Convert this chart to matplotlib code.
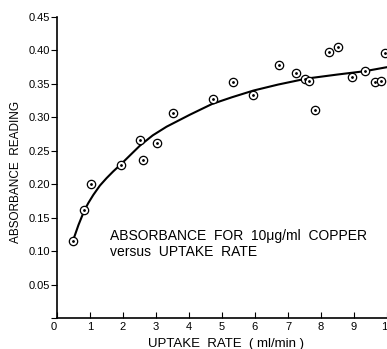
import numpy as np
import matplotlib.pyplot as plt

plt.rcParams['font.family'] = ['Liberation Sans', 'DejaVu Sans']

# measured points (uptake rate ml/min, absorbance)
rate = [0.48, 0.83, 1.02, 1.94, 2.52, 2.62, 3.02, 3.53, 4.74, 5.33, 5.93,
        6.72, 7.24, 7.52, 7.64, 7.82, 8.25, 8.52, 8.93, 9.33, 9.63, 9.82, 9.93]
absorb = [0.115, 0.161, 0.201, 0.229, 0.266, 0.236, 0.262, 0.306, 0.327, 0.353, 0.333,
          0.378, 0.367, 0.357, 0.355, 0.311, 0.398, 0.405, 0.360, 0.369, 0.353, 0.355, 0.396]

# hand drawn trend curve
curve_x = [0.48, 0.65, 0.83, 0.95, 1.10, 1.30, 1.50, 1.70, 1.94, 2.25, 2.52, 2.90, 3.32, 4.03,
           4.70, 5.30, 5.95, 6.70, 7.57, 8.50, 9.33, 10.0]
curve_y = [0.115, 0.139, 0.161, 0.172, 0.184, 0.198, 0.209, 0.219, 0.230, 0.245, 0.258, 0.273,
           0.286, 0.304, 0.320, 0.330, 0.340, 0.349, 0.358, 0.364, 0.369, 0.375]

xticks = list(range(0, 11))
yticks = [0, 0.05, 0.10, 0.15, 0.20, 0.25, 0.30, 0.35, 0.40, 0.45]
ytick_labels = ['', '0.05', '0.10', '0.15', '0.20', '0.25', '0.30', '0.35', '0.40', '0.45']

fig = plt.figure(figsize=(3.87, 3.49), dpi=100)
ax = fig.add_axes([57/387, 1 - 318/349, 1 - 57/387, (318 - 17)/349])

ax.plot(curve_x, curve_y, color='black', lw=1.5, solid_capstyle='round',
        solid_joinstyle='round', zorder=2)
ax.plot(rate, absorb, 'o', ms=6, mfc='white', mec='black', mew=0.9, zorder=3)
ax.plot(rate, absorb, '.', ms=2, color='black', zorder=4)

ax.set_xlim(0, 10)
ax.set_ylim(0, 0.45)
for s in ['top', 'right']:
    ax.spines[s].set_visible(False)
ax.spines['left'].set_linewidth(1.2)
ax.spines['bottom'].set_linewidth(1.2)

ax.set_xticks(xticks)
ax.set_xticklabels([str(t) for t in xticks], fontsize=8)
ax.get_xticklabels()[0].set_ha('right')
ax.set_yticks(yticks)
ax.set_yticklabels(ytick_labels, fontsize=8)
ax.tick_params(axis='x', direction='in', length=4, width=0.8, pad=3)
ax.tick_params(axis='y', direction='out', length=4, width=0.8, pad=1)

ax.set_xlabel('UPTAKE  RATE  ( ml/min )', fontsize=9.5)
ax.xaxis.set_label_coords(0.512, -0.065)
ax.set_ylabel('ABSORBANCE  READING', fontsize=8.5)
ax.yaxis.set_label_coords(-0.105, 0.485)

ax.text(1.6, 0.111, 'ABSORBANCE  FOR  10\u03bcg/ml  COPPER\nversus  UPTAKE  RATE',
        fontsize=10, va='center', ha='left', linespacing=1.2)

fig.savefig('out.png', dpi=100)
